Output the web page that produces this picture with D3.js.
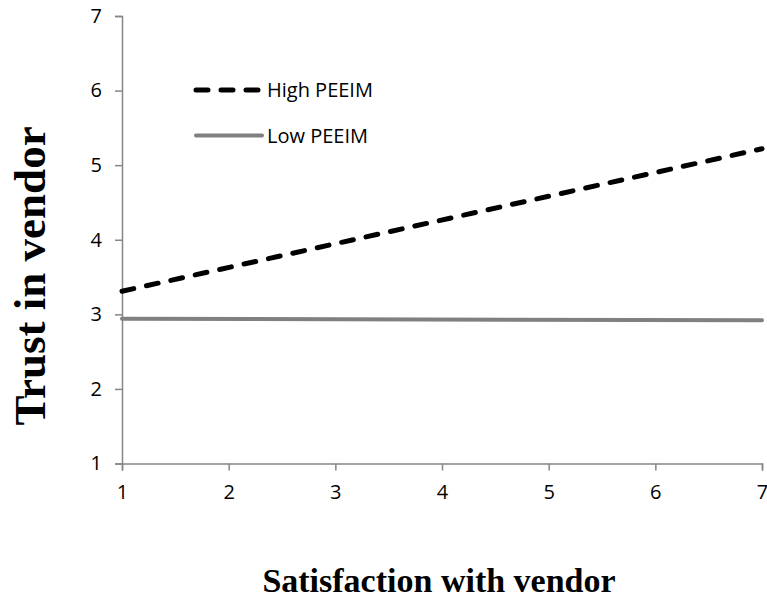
<!DOCTYPE html>
<html><head><meta charset="utf-8">
<script src="https://cdn.jsdelivr.net/npm/d3@7"></script>
<style>body{margin:0;background:#fff}</style>
</head><body><svg id="c" width="767" height="599"></svg>
<script>
const xTicks = [1,2,3,4,5,6,7];
const yTicks = [1,2,3,4,5,6,7];
const satisfaction = [1,7];
const highPEEIM = [3.31,5.22];
const lowPEEIM = [2.94,2.92];
const seriesNames = ["High PEEIM","Low PEEIM"];

const svg = d3.select("#c");
const x = d3.scaleLinear().domain([1,7]).range([122,762]);
const y = d3.scaleLinear().domain([1,7]).range([463.5,16]);
const axisColor = "#868686";
const tickFont = "'Open Sans', 'Noto Sans', sans-serif";

const gx = svg.append("g").attr("transform",`translate(0,${y(1)})`)
  .call(d3.axisBottom(x).tickValues(xTicks).tickSize(7).tickPadding(14).tickFormat(d3.format("d")));
const gy = svg.append("g").attr("transform",`translate(${x(1)},0)`)
  .call(d3.axisLeft(y).tickValues(yTicks).tickSize(7).tickPadding(13).tickFormat(d3.format("d")));
[gx,gy].forEach(g=>{
  g.attr("font-size",null);
  g.select(".domain").attr("stroke",axisColor).attr("stroke-width",1.5);
  g.selectAll(".tick line").attr("stroke",axisColor).attr("stroke-width",1.5);
  g.selectAll(".tick text").attr("fill","#000").attr("font-family",tickFont).attr("font-size",20);
});

const line = d3.line().x((d,i)=>x(satisfaction[i])).y(d=>y(d));
svg.append("path").datum(lowPEEIM).attr("d",line).attr("fill","none")
  .attr("stroke","#808080").attr("stroke-width",4).attr("stroke-linecap","round");
svg.append("path").datum(highPEEIM).attr("d",line).attr("fill","none")
  .attr("stroke","#000").attr("stroke-width",5).attr("stroke-linecap","round")
  .attr("stroke-dasharray","12,13");

// legend
const lg = svg.append("g");
lg.append("line").attr("x1",196).attr("x2",259).attr("y1",90).attr("y2",90)
  .attr("stroke","#000").attr("stroke-width",5).attr("stroke-linecap","round").attr("stroke-dasharray","12,13");
lg.append("line").attr("x1",196).attr("x2",262).attr("y1",135.5).attr("y2",135.5)
  .attr("stroke","#808080").attr("stroke-width",4).attr("stroke-linecap","round");
lg.selectAll("text.lt").data(seriesNames).join("text")
  .attr("x",267).attr("y",(d,i)=>[90,135.5][i]).attr("dy","0.36em")
  .style("font-family",tickFont).style("font-size","20px").text(d=>d);

svg.append("text").attr("transform","translate(45,276) rotate(-90)").attr("text-anchor","middle")
  .style("font-family","'Liberation Serif','Times New Roman',serif").style("font-weight","bold").style("font-size","45px")
  .text("Trust in vendor");
svg.append("text").attr("x",439).attr("y",592).attr("text-anchor","middle")
  .style("font-family","'Liberation Serif','Times New Roman',serif").style("font-weight","bold").style("font-size","34px")
  .text("Satisfaction with vendor");
</script></body></html>
